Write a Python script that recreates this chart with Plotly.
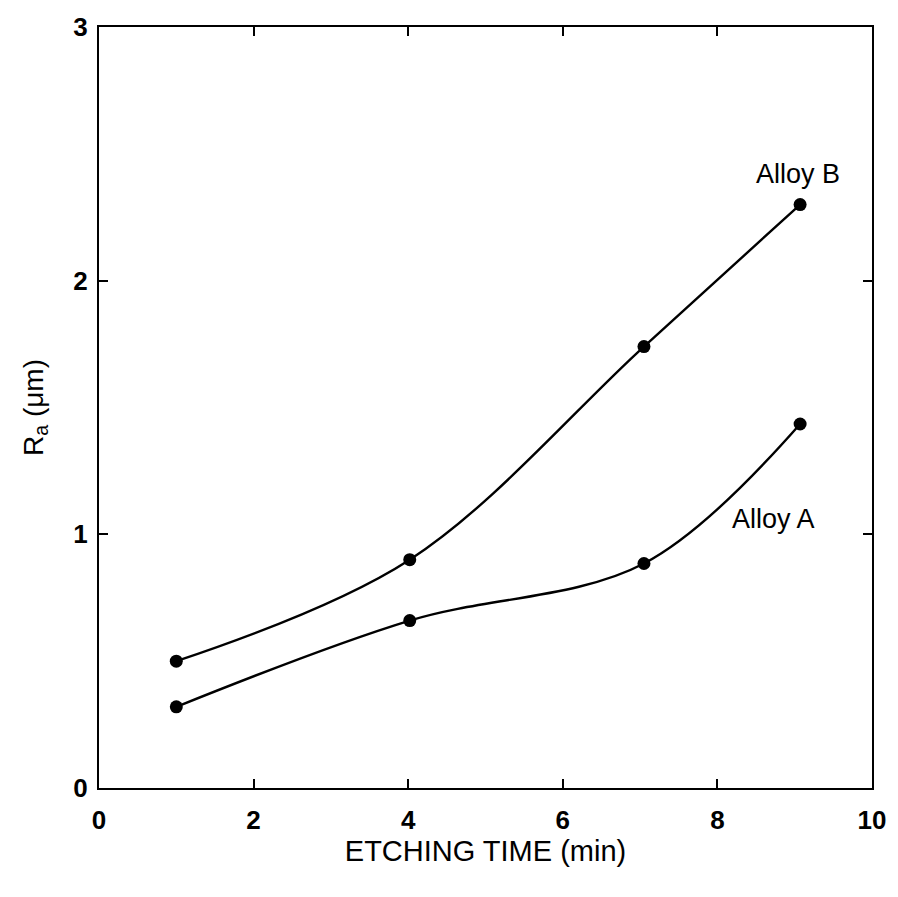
import plotly.graph_objects as go

# Etching time (min) and surface roughness Ra (um) for the two alloys
etch_time = [1.0, 4.02, 7.05, 9.07]
ra_alloy_a = [0.32, 0.66, 0.885, 1.435]
ra_alloy_b = [0.50, 0.90, 1.74, 2.30]

x_ticks = [0, 2, 4, 6, 8, 10]
y_ticks = [0, 1, 2, 3]

FONT = "Liberation Sans, Arial, sans-serif"

fig = go.Figure()
for name, vals in [("Alloy A", ra_alloy_a), ("Alloy B", ra_alloy_b)]:
    fig.add_trace(go.Scatter(
        x=etch_time, y=vals, name=name, mode="lines+markers",
        line=dict(color="black", width=2.4, shape="spline", smoothing=1.0),
        marker=dict(color="black", size=13, symbol="circle"),
        showlegend=False,
    ))

fig.add_annotation(x=9.04, y=2.42, text="Alloy B", showarrow=False,
                   font=dict(family=FONT, size=27, color="black"))
fig.add_annotation(x=8.73, y=1.06, text="Alloy A", showarrow=False,
                   font=dict(family=FONT, size=27, color="black"))

axis_common = dict(
    showline=True, linecolor="black", linewidth=2, mirror="ticks",
    ticks="inside", ticklen=9, tickwidth=1.5, tickcolor="black",
    showgrid=False, zeroline=False,
    tickfont=dict(family=FONT, size=26, color="black", weight="bold"),
)

fig.update_xaxes(range=[0, 10], tickvals=x_ticks, ticktext=[str(v) for v in x_ticks],
                 ticklabelstandoff=8,
                 title=dict(text="ETCHING TIME (min)", standoff=6,
                            font=dict(family=FONT, size=29, color="black")),
                 **axis_common)
fig.update_yaxes(range=[0, 3], tickvals=y_ticks, ticktext=[str(v) for v in y_ticks],
                 ticklabelstandoff=4,
                 title=dict(text="R<sub>a</sub> (\u03bcm)", standoff=22,
                            font=dict(family=FONT, size=28, color="black")),
                 **axis_common)

fig.update_layout(
    width=898, height=897,
    margin=dict(l=99, r=17, t=18, b=109),
    plot_bgcolor="white", paper_bgcolor="white",
)

fig.write_html("out.html")
